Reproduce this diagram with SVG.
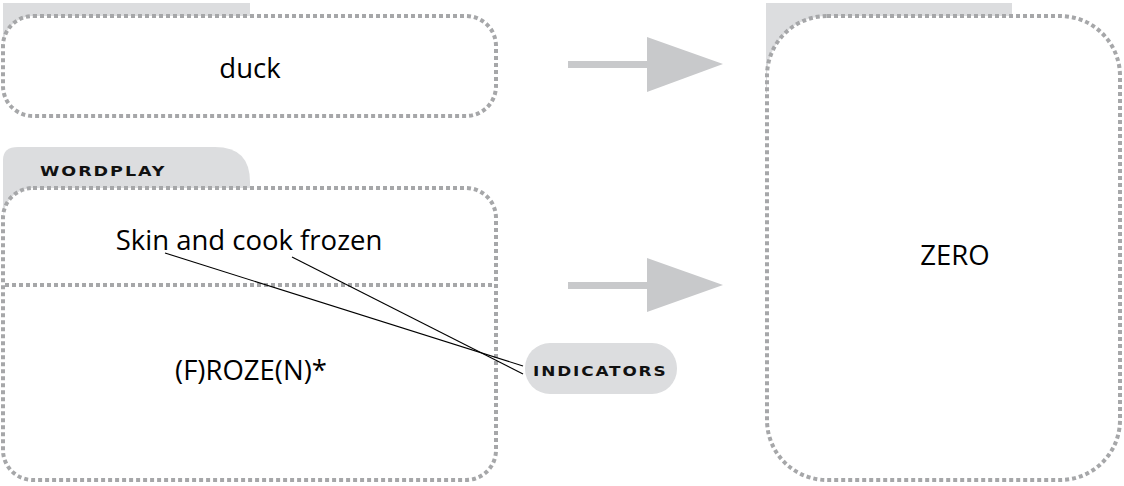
<svg xmlns="http://www.w3.org/2000/svg" width="1124" height="486" viewBox="0 0 1124 486">
<style>
.tab{fill:#dcdddf}
.box{fill:#fff;stroke:#a6a7a9;stroke-width:4;stroke-dasharray:4 3}
.div{fill:none;stroke:#a6a7a9;stroke-width:4;stroke-dasharray:4 3}
.t{font-family:"Open Sans","Noto Sans",sans-serif;font-size:27.5px;fill:#000;text-anchor:middle}
.lbl{font-family:"DejaVu Sans",sans-serif;font-weight:bold;font-size:13.5px;letter-spacing:1.5px;fill:#111}
.arr{fill:#c8c9cb}
.ln{stroke:#000;stroke-width:1.1;fill:none}
</style>
<g id="duck">
<rect class="tab" x="3" y="3" width="247" height="45"/>
<rect class="box" x="3" y="16" width="493" height="100" rx="30" ry="30"/>
<text class="t" x="250" y="78">duck</text>
</g>
<g id="wordplay">
<path class="tab" d="M3 160 Q3 147 18 147 L215 147 Q250 147 250 182 L250 230 L3 230 Z"/>
<rect class="box" x="3" y="188" width="493" height="292" rx="30" ry="30"/>
<line class="div" x1="5" y1="285" x2="494" y2="285"/>
<text class="lbl" transform="translate(40,176) scale(1.3,1)">WORDPLAY</text>
<text class="t" x="249" y="250">Skin and cook frozen</text>
<text class="t" x="251" y="380">(F)ROZE(N)*</text>
</g>
<g id="indicators">
<rect class="tab" x="525" y="343" width="152" height="51" rx="25" ry="25"/>
<text class="lbl" transform="translate(533,376) scale(1.25,1)">INDICATORS</text>
</g>
<g id="zero">
<rect class="tab" x="766" y="3" width="246" height="90"/>
<rect class="box" x="767" y="16" width="353" height="464" rx="60" ry="60"/>
<text class="t" x="955" y="265">ZERO</text>
</g>
<g id="connectors">
<rect class="arr" x="568" y="61" width="80" height="7"/>
<polygon class="arr" points="647,37 723,64 647,92"/>
<rect class="arr" x="568" y="282" width="80" height="7"/>
<polygon class="arr" points="647,258 723,285 647,312"/>
<line class="ln" x1="165" y1="253" x2="523" y2="366"/>
<line class="ln" x1="292" y1="257" x2="523" y2="374"/>
</g>
</svg>
